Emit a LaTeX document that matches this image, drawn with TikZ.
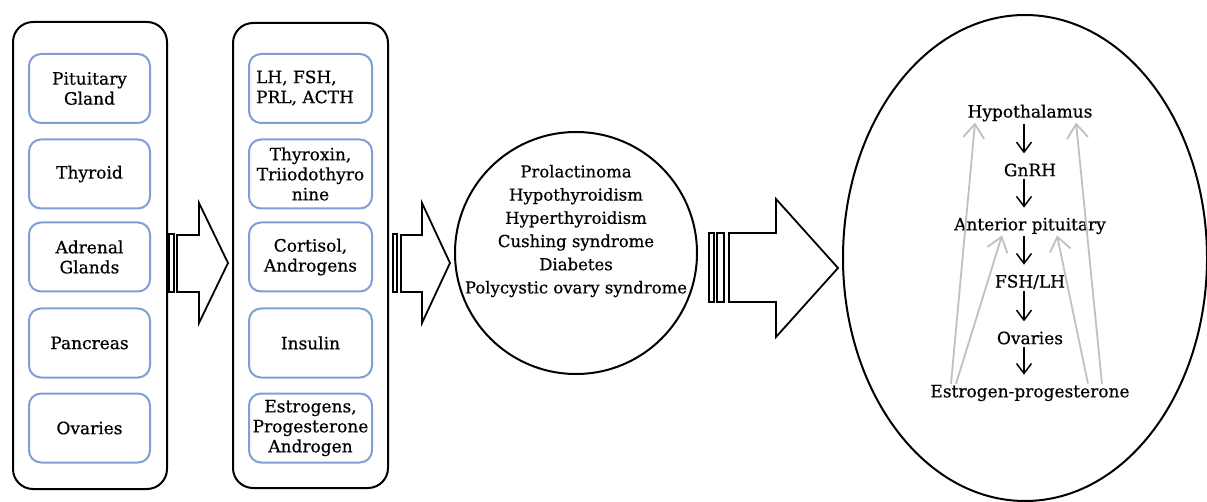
\documentclass[tikz,border=0pt]{standalone}
\usepackage{fontspec}
\setmainfont{DejaVu Serif}[FakeBold=0.6]
\usetikzlibrary{arrows.meta}
\definecolor{boxblue}{RGB}{127,159,214}
\definecolor{fbgray}{RGB}{192,192,192}
\tikzset{
  container/.style={draw=black, line width=2pt, rounded corners=20pt},
  inbox/.style={draw=boxblue, line width=2pt, rounded corners=12pt, minimum height=69pt, inner sep=1pt, align=center, font=\fontsize{17}{20}\selectfont},
  blockarrow/.style={draw=black, line width=1.8pt, fill=white, line join=miter},
  etext/.style={inner sep=1pt, font=\fontsize{17}{20}\selectfont},
  darrow/.style={draw=black, line width=1.5pt, shorten <=1pt, shorten >=9pt, -{Straight Barb[length=10pt,width=15pt,line width=1.5pt]}},
  garrow/.style={draw=fbgray, line width=1.8pt, -{Straight Barb[length=14pt,width=21pt,line width=1.8pt]}}
}
\begin{document}
\begin{tikzpicture}[x=1pt,y=-1pt]
\useasboundingbox (0,0) rectangle (1207,502);

% containers
\draw[container] (13,22) rectangle (167,489);
\draw[container] (233,23) rectangle (388,488);

% left column
\node[inbox, minimum width=121pt] (l1) at (89.5,88.5) {Pituitary\\Gland};
\node[inbox, minimum width=121pt] (l2) at (89.5,174) {Thyroid};
\node[inbox, minimum width=121pt] (l3) at (89.5,257) {Adrenal\\Glands};
\node[inbox, minimum width=121pt] (l4) at (89.5,343) {Pancreas};
\node[inbox, minimum width=121pt] (l5) at (89.5,428) {Ovaries};

% middle column
\node[inbox, minimum width=123pt] (m1) at (310.5,88.5) {};
\node[font=\fontsize{17}{20}\selectfont, align=left, inner sep=0pt] (m1t) at (305,88) {LH, FSH,\\PRL, ACTH};
\node[inbox, minimum width=123pt] (m2) at (310.5,174) {Thyroxin,\\Triiodothyro\\nine};
\node[inbox, minimum width=123pt] (m3) at (310.5,257) {Cortisol,\\Androgens};
\node[inbox, minimum width=123pt] (m4) at (310.5,343) {Insulin};
\node[inbox, minimum width=123pt] (m5) at (310.5,428) {Estrogens,\\Progesterone\\Androgen};

% block arrow 1
\draw[blockarrow] (169,234) rectangle (174,292);
\draw[blockarrow] (177,235) -- (199,235) -- (199,203) -- (228,263) -- (199,323) -- (199,292) -- (177,292) -- cycle;
% block arrow 2
\draw[blockarrow] (393,234) rectangle (397,292);
\draw[blockarrow] (401,235) -- (422,235) -- (422,203) -- (450,263) -- (422,323) -- (422,292) -- (401,292) -- cycle;

% circle
\node[draw=black, line width=2pt, circle, minimum size=242pt, inner sep=0pt] (circ) at (576,253) {};
\node[align=center, font=\fontsize{16.5}{23.2}\selectfont] (dis) at (576,231) {Prolactinoma\\Hypothyroidism\\Hyperthyroidism\\Cushing syndrome\\Diabetes\\Polycystic ovary syndrome};

% block arrow 3
\draw[blockarrow] (709,233) rectangle (714,302);
\draw[blockarrow] (717,233) rectangle (724,302);
\draw[blockarrow] (729,233) -- (776,233) -- (776,199) -- (838,268) -- (776,337) -- (776,302) -- (729,302) -- cycle;

% ellipse
\draw[line width=2pt] (1025,258) ellipse [x radius=182pt, y radius=243pt];

\node[etext] (hyp) at (1030,113) {Hypothalamus};
\node[etext] (gnrh) at (1030,170) {GnRH};
\node[etext] (ant) at (1030,226) {Anterior pituitary};
\node[etext] (fsh) at (1030,282) {FSH/LH};
\node[etext] (ova) at (1030,338) {Ovaries};
\node[etext] (est) at (1030,393) {Estrogen-progesterone};

\coordinate (ax) at (1024,0);
\draw[darrow] (hyp.south -| ax) -- (gnrh.north -| ax);
\draw[darrow] (gnrh.south -| ax) -- (ant.north -| ax);
\draw[darrow] (ant.south -| ax) -- (fsh.north -| ax);
\draw[darrow] (fsh.south -| ax) -- (ova.north -| ax);
\draw[darrow] (ova.south -| ax) -- (est.north -| ax);

% feedback arrows
\draw[garrow] ([xshift=-79pt]est.north) -- ([xshift=-55pt]hyp.south);
\draw[garrow] ([xshift=-74pt]est.north) -- ([xshift=-28pt]ant.south);
\draw[garrow] ([xshift=58pt]est.north) -- ([xshift=27pt]ant.south);
\draw[garrow] ([xshift=72pt]est.north) -- ([xshift=46pt]hyp.south);
\end{tikzpicture}
\end{document}
